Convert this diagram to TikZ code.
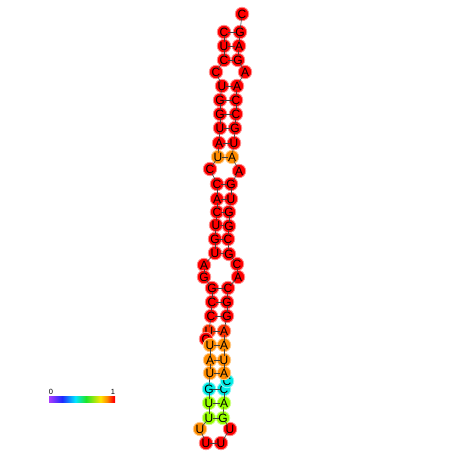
\documentclass[tikz,border=0pt]{standalone}
\usepackage{fontspec}
\setsansfont{Liberation Sans}
\usepackage{xcolor}
\definecolor{ntred}{RGB}{255,0,0}
\definecolor{ntredorange}{RGB}{255,50,0}
\definecolor{ntorange}{RGB}{255,140,0}
\definecolor{ntcyan}{RGB}{0,235,230}
\definecolor{ntlime}{RGB}{150,255,0}
\definecolor{barviolet}{RGB}{170,60,255}
\definecolor{barblue}{RGB}{30,40,255}
\definecolor{barcyan}{RGB}{0,230,255}
\definecolor{bargreen}{RGB}{30,230,40}
\definecolor{baryellow}{RGB}{255,230,0}
\definecolor{barorange}{RGB}{255,140,0}
\definecolor{barred}{RGB}{255,0,0}
\pgfdeclarehorizontalshading{rainbowbar}{100bp}{color(0bp)=(barviolet); color(25bp)=(barviolet); color(35bp)=(barblue); color(45bp)=(barcyan); color(53bp)=(bargreen); color(64bp)=(baryellow); color(69bp)=(barorange); color(74bp)=(barred); color(100bp)=(barred)}

\begin{document}
\begin{tikzpicture}[
    x=1pt, y=-1pt,
    nt/.style={circle, inner sep=0pt, minimum size=13.5pt, line width=0.8pt,
        font=\fontsize{12}{12}\selectfont\sffamily},
    link/.style={draw=black!75, line width=0.6pt, shorten >=4pt, shorten <=4pt},
    scalelabel/.style={font=\fontsize{7.5}{7.5}\selectfont\sffamily, inner sep=0pt}
]
    \useasboundingbox (0,0) rectangle (452,452);

    % Nucleotides, 5' strand down, 3' strand up
    \foreach \i/\b/\x/\y/\c in {
        1/C/224/32/ntred, 2/U/224/46/ntred, 3/C/224/60/ntred, 4/C/216/72/ntred,
        5/U/222/86/ntred, 6/G/220/100/ntred, 7/G/220/114/ntred, 8/U/220/128/ntred,
        9/A/219/143/ntred, 10/U/218/157/ntorange, 11/C/210/169/ntred,
        12/C/217/184/ntred, 13/A/217/199/ntred, 14/C/217/212/ntred,
        15/U/216/225/ntred, 16/G/215/239/ntred, 17/U/215/253/ntred,
        18/A/204/265/ntred, 19/G/204/277/ntred, 20/G/212/288/ntred,
        21/C/212/302/ntred, 22/C/211/316/ntred, 23/U/209/331/ntredorange,
        24/C/206/339/ntred, 25/U/210/345/ntorange, 26/A/210/360/ntorange,
        27/U/210/373/ntorange, 28/G/209/389/ntcyan, 29/U/209/403/ntlime,
        30/U/209/418/ntlime, 31/U/200/429/ntorange, 32/U/206/443/ntred,
        33/U/221/443/ntred, 34/U/230/429/ntred, 35/G/223/418/ntlime,
        36/A/224/403/ntlime, 37/C/224/389/ntcyan, 38/C/227/381/ntcyan,
        39/A/224/373/ntorange, 40/U/224/360/ntorange, 41/A/224/345/ntorange,
        42/A/224/331/ntredorange, 43/G/227/316/ntred, 44/G/227/302/ntred,
        45/C/228/288/ntred, 46/A/238/277/ntred, 47/C/237/264/ntred,
        48/G/229/254/ntred, 49/C/228/239/ntred, 50/G/229/226/ntred,
        51/G/229/212/ntred, 52/U/231/199/ntred, 53/G/231/184/ntred,
        54/A/239/171/ntred, 55/A/232/157/ntorange, 56/U/234/143/ntred,
        57/G/235/128/ntred, 58/C/236/114/ntred, 59/C/236/100/ntred,
        60/A/237/86/ntred, 61/A/245/72/ntred, 62/G/238/60/ntred,
        63/A/239/46/ntred, 64/G/240/32/ntred, 65/C/242/14/ntred}
        \node[nt, fill=\c, draw=\c!45!white] (n\i) at (\x,\y) {\b};

    % Backbone
    \foreach \i [evaluate=\i as \j using int(\i+1)] in {1,...,64}
        \draw[link] (n\i.center) -- (n\j.center);

    % Base pairs
    \foreach \i/\j in {1/64, 2/63, 3/62, 5/60, 6/59, 7/58, 8/57, 9/56, 10/55,
        12/53, 13/52, 14/51, 15/50, 16/49, 17/48, 20/45, 21/44, 22/43, 23/42,
        25/41, 26/40, 27/39, 28/37, 29/36, 30/35}
        \draw[link] (n\i.center) -- (n\j.center);

    % Colour scale
    \shade[shading=rainbowbar] (49,396) rectangle (115,402);
    \node[scalelabel] (zero) at (51,391.5) {0};
    \node[scalelabel] (one) at (113,391.5) {1};
\end{tikzpicture}
\end{document}
